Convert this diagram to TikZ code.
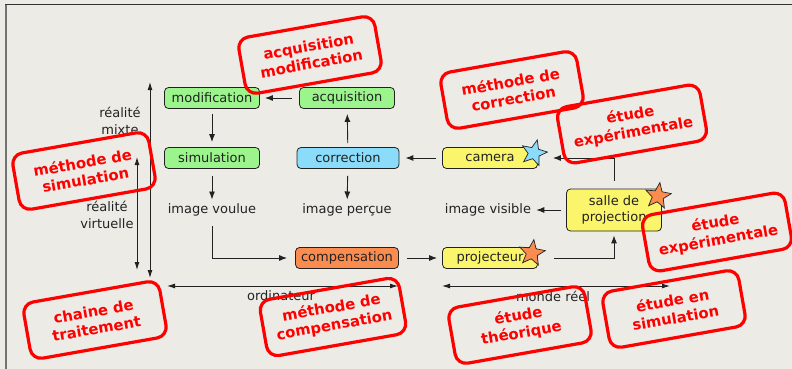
\documentclass[tikz,border=0pt]{standalone}
\usepackage{fontspec}
\setmainfont{DejaVu Sans}
\usetikzlibrary{shapes.geometric,arrows.meta}
\definecolor{bg}{HTML}{EDEBE6}
\definecolor{ink}{HTML}{222222}
\definecolor{boxgreen}{HTML}{9CF58C}
\definecolor{boxblue}{HTML}{8ADCFA}
\definecolor{boxyellow}{HTML}{FAF56A}
\definecolor{boxorange}{HTML}{FA8C50}
\begin{document}
\begin{tikzpicture}[x=1pt,y=-1pt,
  block/.style={draw=ink, line width=0.8pt, rounded corners=4pt, minimum height=21pt,
    minimum width=95pt, inner xsep=5pt, inner ysep=2pt, text=ink,
    font=\fontsize{13}{16.5}\selectfont},
  lbl/.style={text=ink, align=center, inner sep=2pt, font=\fontsize{13}{17}\selectfont},
  arr/.style={draw=ink, line width=0.9pt, -{Latex[length=8pt,width=6pt]}},
  darr/.style={draw=ink, line width=0.9pt, {Latex[length=8pt,width=5pt]}-{Latex[length=8pt,width=5pt]}},
  mark5/.style={star, star points=5, star point ratio=2.3, minimum size=27pt, inner sep=0pt,
    draw=ink, line width=0.7pt, shape border rotate=-8},
  note/.style={draw=red, line width=3.2pt, rounded corners=11pt, text=red, align=center,
    font=\fontsize{14.8}{17.5}\selectfont\bfseries, minimum width=138pt, minimum height=57pt,
    inner xsep=12pt, rotate=10}]
% page background and frame
\fill[bg] (0,0) rectangle (792,369);
\useasboundingbox (0,0) rectangle (792,369);
\draw[black!80, line width=1pt] (5,5) -- (792,5);
\draw[black!55, line width=1.2pt] (6,5) -- (6,369);

% processing blocks
\node[block, fill=boxgreen] (mod) at (212,98) {modification};
\node[block, fill=boxgreen] (acq) at (347,98) {acquisition};
\node[block, fill=boxgreen] (sim) at (212,158) {simulation};
\node[block, fill=boxblue, minimum width=102pt] (cor) at (348,158) {correction};
\node[block, fill=boxyellow] (cam) at (490,158) {camera\hspace{6pt}};
\node[block, fill=boxyellow, minimum height=42pt, align=center, font=\fontsize{13}{16.5}\selectfont]
  (salle) at (614,210) {salle de\\projection};
\node[block, fill=boxorange, minimum width=103pt] (comp) at (347,258) {compensation};
\node[block, fill=boxyellow] (proj) at (490,258) {projecteur\hspace{5pt}};

% images
\node[lbl] (voulue) at (212,210) {image voulue};
\node[lbl] (percue) at (347,210) {image perçue};
\node[lbl] (visible) at (488,210) {image visible};

% flow
\draw[arr, shorten <=7pt, shorten >=5pt] (acq) -- (mod);
\draw[arr, shorten <=5pt, shorten >=5pt] (mod) -- (sim);
\draw[arr, shorten <=4pt, shorten >=5pt] (cor) -- (acq);
\draw[arr, shorten <=7pt, shorten >=2pt] (sim) -- (voulue);
\draw[arr, shorten <=7pt, shorten >=2pt] (cor) -- (percue);
\draw[arr, shorten <=6pt, shorten >=6pt] (cam) -- (cor);
\draw[arr, shorten <=8pt, shorten >=15pt] (salle) |- (cam);
\draw[arr, shorten <=5pt, shorten >=3pt] (salle) -- (visible);
\draw[arr, shorten <=8pt, shorten >=8pt] (voulue) |- (comp);
\draw[arr, shorten <=8pt, shorten >=5pt] (comp) -- (proj);
\draw[arr, shorten <=16pt, shorten >=4pt] (proj) -| (salle);

% stars
\node[mark5, fill=boxblue, shape border rotate=-14] (scam) at (534,153) {};
\node[mark5, fill=boxorange] (ssalle) at (658,196) {};
\node[mark5, fill=boxorange] (sproj) at (532,253) {};

% scales
\coordinate (m1) at (150,82);
\coordinate (m2) at (150,278);
\coordinate (v1) at (137,157);
\coordinate (v2) at (137,270);
\coordinate (o1) at (167,286);
\coordinate (o2) at (398,286);
\coordinate (w1) at (442,286);
\coordinate (w2) at (670,286);
\draw[darr] (m1) -- (m2);
\draw[darr] (v1) -- (v2);
\draw[darr] (o1) -- (o2);
\draw[darr] (w1) -- (w2);
\node[lbl] (mixte) at (120,121) {réalité\\mixte};
\node[lbl] (virt) at (107,215) {réalité\\virtuelle};
\node[lbl] (ordi) at (281,296) {ordinateur};
\node[lbl] (monde) at (553,296) {monde réel};

% annotations
\node[note] (n1) at (310,55) {acquisition\\modification};
\node[note] (n2) at (512,90) {méthode de\\correction};
\node[note] (n3) at (632,124) {étude\\expérimentale};
\node[note] (n4) at (84,171) {méthode de\\simulation};
\node[note] (n5) at (717,232) {étude\\expérimentale};
\node[note] (n6) at (95,320) {chaine de\\traitement};
\node[note] (n7) at (333,317) {méthode de\\compensation};
\node[note] (n8) at (520,325) {étude\\théorique};
\node[note] (n9) at (674,309) {étude en\\simulation};
\end{tikzpicture}
\end{document}
